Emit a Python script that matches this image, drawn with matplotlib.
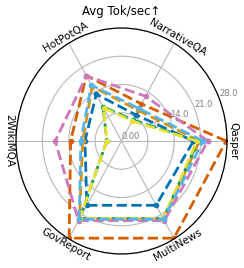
import numpy as np
import matplotlib
matplotlib.use("Agg")
import matplotlib.pyplot as plt

categories = ["Qasper", "NarrativeQA", "HotPotQA", "2WikiMQA", "GovReport", "MultiNews"]
label_rot = [-90, -30, 30, -90, -30, 30]

series_colors = ["#0173b2", "#de8f05", "#029e73", "#d55e00", "#cc78bc", "#ece133", "#56b4e9"]
s_blue      = [19.1, 7.5, 13.4, 9.7, 18.4, 18.4]
s_orange    = [20.7, 8.8, 15.6, 10.3, 22.3, 22.3]
s_green     = [20.3, 6.0, 9.8, 3.9, 22.2, 22.2]
s_vermilion = [27.8, 10.6, 18.7, 13.5, 27.8, 27.8]
s_pink      = [22.9, 12.8, 18.6, 17.6, 22.8, 22.8]
s_yellow    = [20.0, 5.7, 9.5, 3.9, 22.2, 22.2]
s_lightblue = [21.6, 9.3, 16.0, 10.8, 22.4, 22.4]
series = [s_blue, s_orange, s_green, s_vermilion, s_pink, s_yellow, s_lightblue]

rticks = [0, 7, 14, 21, 28]
rtick_labels = ["0.00", "7.0", "14.0", "21.0", "28.0"]
rmax = 28

fig = plt.figure(figsize=(2.44, 2.68), dpi=100)
ax = fig.add_axes([16/244, 14/268, 211/244, 226/268], projection="polar")
ax.set_aspect("auto")

angles = np.linspace(0, 2*np.pi, len(categories), endpoint=False)
closed = np.concatenate([angles, angles[:1]])
for vals, col in zip(series, series_colors):
    v = list(vals) + [vals[0]]
    ax.plot(closed, v, color=col, linestyle="--", linewidth=2, marker="o", markersize=3)

ax.set_ylim(0, rmax)
ax.set_yticks(rticks)
ax.set_yticklabels(rtick_labels, fontsize=6, color="#808080")
ax.set_rlabel_position(22.5)
ax.set_xticks(angles)
ax.set_xticklabels([])
ax.grid(True, color="#b8b8b8", linewidth=0.8)
ax.spines["polar"].set_linewidth(0.9)

for ang, lab, rot in zip(angles, categories, label_rot):
    ax.text(ang, rmax*1.06, lab, rotation=rot, ha="center", va="center",
            fontsize=7.5, rotation_mode="anchor")

fig.text(0.496, 1 - 12/268, "Avg Tok/sec\u2191", ha="center", va="center", fontsize=8.5)

fig.savefig("out.png", dpi=100)
